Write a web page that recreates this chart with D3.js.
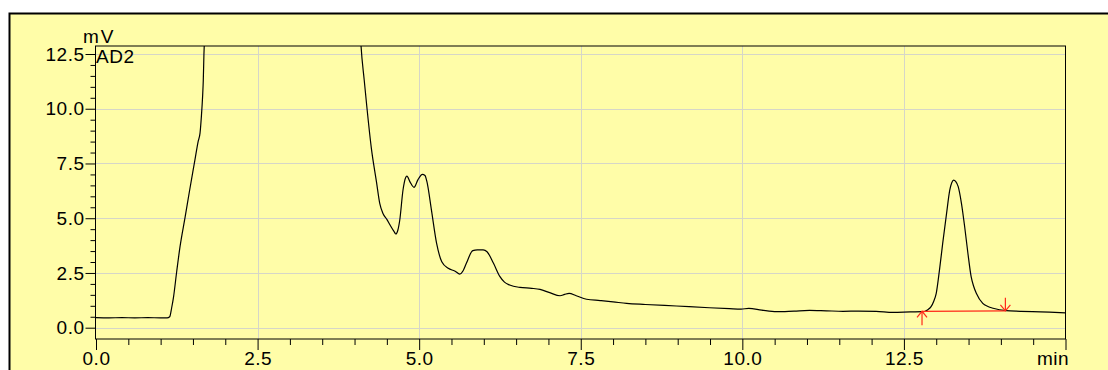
<!DOCTYPE html>
<html><head><meta charset="utf-8">
<script src="https://cdn.jsdelivr.net/npm/d3@7"></script>
<style>
html,body{margin:0;padding:0;background:#fff;}
svg{display:block;font-family:"Liberation Sans",Arial,sans-serif;}
</style></head>
<body><svg id="c" width="1108" height="370"></svg>
<script>
const times = [0.00,0.20,0.40,0.60,0.80,1.00,1.10,1.14,1.17,1.20,1.25,1.30,1.38,1.45,1.53,1.58,1.61,1.63,1.65,1.66,1.67,1.68,1.70,
  4.08,4.10,4.15,4.19,4.26,4.34,4.39,4.44,4.50,4.55,4.61,4.64,4.67,4.70,4.75,4.79,4.81,4.86,4.92,4.98,5.05,5.09,5.12,5.19,5.27,5.35,5.45,5.55,5.63,5.68,5.73,5.83,5.90,5.99,6.05,6.15,6.25,6.32,6.40,6.56,6.74,6.87,7.02,7.18,7.25,7.32,7.43,7.59,7.80,8.00,8.21,8.50,8.98,9.49,9.80,9.98,10.10,10.30,10.53,10.80,11.04,11.30,11.56,11.80,12.07,12.33,12.60,12.79,12.82,12.87,12.92,12.96,13.00,13.05,13.10,13.16,13.21,13.24,13.27,13.30,13.34,13.39,13.44,13.49,13.54,13.58,13.62,13.72,13.80,13.88,14.08,14.30,14.49,14.75,15.00];
const signal = [0.46,0.45,0.46,0.45,0.46,0.45,0.45,0.50,0.90,1.41,2.60,3.70,5.07,6.30,7.65,8.50,8.90,9.63,10.6,11.3,12.5,13.3,14.0,
  14.0,12.9,11.3,10.1,8.2,6.65,5.68,5.22,4.95,4.69,4.40,4.28,4.45,4.92,6.29,6.85,6.92,6.65,6.41,6.75,7.00,6.95,6.67,5.37,3.85,3.01,2.71,2.59,2.45,2.60,2.94,3.52,3.55,3.55,3.47,2.94,2.33,2.08,1.95,1.84,1.80,1.75,1.60,1.46,1.52,1.57,1.46,1.30,1.24,1.18,1.11,1.06,0.99,0.91,0.87,0.85,0.88,0.80,0.73,0.76,0.79,0.77,0.75,0.76,0.75,0.70,0.72,0.73,0.74,0.82,0.96,1.20,1.57,2.63,3.85,5.22,6.29,6.62,6.74,6.68,6.44,5.68,4.61,3.40,2.33,1.88,1.57,1.11,0.97,0.89,0.78,0.75,0.73,0.71,0.68];
const xTicks = [0, 2.5, 5, 7.5, 10, 12.5, 15];
const xTickLabels = ["0.0","2.5","5.0","7.5","10.0","12.5","min"];
const yTicks = [0, 2.5, 5, 7.5, 10, 12.5];
const yTickLabels = ["0.0","2.5","5.0","7.5","10.0","12.5"];
const peakBaseline = [[12.78, 0.75], [14.07, 0.77]];
const yUnit = "mV";
const channel = "AD2";

const FS = 19;
const svg = d3.select("#c");
const L = 95.5, R = 1065.5, T = 46, B = 339;
const x = d3.scaleLinear().domain([0, 15]).range([96, 1065.5]);
const y = d3.scaleLinear().domain([0, 12.5]).range([327.7, 54]);

// outer panel
svg.append("rect").attr("x", 9.5).attr("y", 13.5).attr("width", 1120).attr("height", 380)
  .attr("fill", "#fffda8").attr("stroke", "#000").attr("stroke-width", 2);

// grid
const grid = svg.append("g").attr("stroke", "#d6d6c8").attr("stroke-width", 1);
xTicks.filter(t => t > 0 && t < 15).forEach(t => {
  grid.append("line").attr("x1", Math.round(x(t)) + 0.5).attr("x2", Math.round(x(t)) + 0.5).attr("y1", T).attr("y2", B);
});
yTicks.forEach(t => {
  grid.append("line").attr("x1", L).attr("x2", R).attr("y1", Math.round(y(t)) + 0.5).attr("y2", Math.round(y(t)) + 0.5);
});

// clip
svg.append("clipPath").attr("id", "pc").append("rect").attr("x", L).attr("y", T).attr("width", R - L).attr("height", B - T);

const data = times.map((t, i) => [t, signal[i]]);
const line = d3.line().x(d => x(d[0])).y(d => y(d[1])).curve(d3.curveMonotoneX);
svg.append("path").attr("d", line(data)).attr("clip-path", "url(#pc)")
  .attr("fill", "none").attr("stroke", "#000").attr("stroke-width", 1.2);

// peak baseline + markers
const red = "#ff2a1a";
const bx0 = x(peakBaseline[0][0]), by0 = y(peakBaseline[0][1]);
const bx1 = x(peakBaseline[1][0]), by1 = y(peakBaseline[1][1]);
const rg = svg.append("g").attr("stroke", red).attr("stroke-width", 1.2).attr("fill", "none");
rg.append("line").attr("x1", bx0).attr("y1", by0).attr("x2", bx1).attr("y2", by1);
rg.append("line").attr("x1", bx0).attr("y1", by0).attr("x2", bx0).attr("y2", by0 + 14);
rg.append("path").attr("d", `M${bx0 - 5},${by0 + 6}L${bx0},${by0}L${bx0 + 5},${by0 + 6}`);
rg.append("line").attr("x1", bx1).attr("y1", by1 - 13).attr("x2", bx1).attr("y2", by1);
rg.append("path").attr("d", `M${bx1 - 5},${by1 - 6}L${bx1},${by1}L${bx1 + 5},${by1 - 6}`);

// plot frame
svg.append("rect").attr("x", L).attr("y", T).attr("width", R - L).attr("height", B - T)
  .attr("fill", "none").attr("stroke", "#000").attr("stroke-width", 1);

// axes via d3
const xAxisMajor = d3.axisBottom(x).tickValues(xTicks).tickSize(11).tickSizeOuter(0)
  .tickFormat((d, i) => xTickLabels[i]).tickPadding(2);
const gx = svg.append("g").attr("transform", `translate(0,${B})`).call(xAxisMajor);
gx.select(".domain").remove();
gx.selectAll("text").attr("font-size", FS).attr("letter-spacing", 0.5).attr("fill", "#000")
  .attr("font-family", "Liberation Sans, Arial, sans-serif");
gx.selectAll("text").filter((d, i) => i === xTicks.length - 1).attr("text-anchor", "end").attr("dx", 3);
const xMinor = d3.range(0, 15.01, 0.5).filter(v => Math.abs(v / 2.5 - Math.round(v / 2.5)) > 1e-6);
const gxm = svg.append("g").attr("transform", `translate(0,${B})`)
  .call(d3.axisBottom(x).tickValues(xMinor).tickSize(6).tickSizeOuter(0).tickFormat(""));
gxm.select(".domain").remove();

const yAxisMajor = d3.axisLeft(y).tickValues(yTicks).tickSize(10).tickSizeOuter(0)
  .tickFormat((d, i) => yTickLabels[i]).tickPadding(1);
const gy = svg.append("g").attr("transform", `translate(${L},0)`).call(yAxisMajor);
gy.select(".domain").remove();
gy.selectAll("text").attr("font-size", FS).attr("letter-spacing", 0.5).attr("fill", "#000")
  .attr("font-family", "Liberation Sans, Arial, sans-serif");
const yMinor = d3.range(0, 12.51, 0.5).filter(v => Math.abs(v / 2.5 - Math.round(v / 2.5)) > 1e-6);
const gym = svg.append("g").attr("transform", `translate(${L},0)`)
  .call(d3.axisLeft(y).tickValues(yMinor).tickSize(5).tickSizeOuter(0).tickFormat(""));
gym.select(".domain").remove();
svg.selectAll(".tick line").attr("stroke", "#000");

svg.append("text").attr("x", 83).attr("y", 43).attr("font-size", FS).attr("letter-spacing", 2).attr("fill", "#000").text(yUnit);
svg.append("text").attr("x", 96).attr("y", 63).attr("font-size", FS).attr("letter-spacing", 0.5).attr("fill", "#000").text(channel);
</script></body></html>
